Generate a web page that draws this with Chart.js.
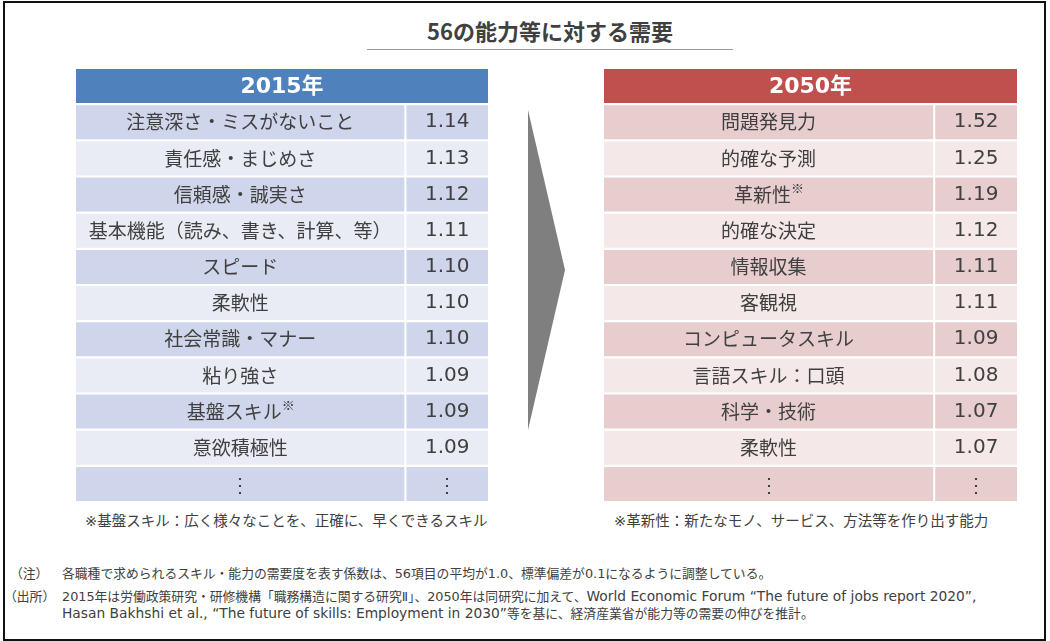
<!DOCTYPE html>
<html>
<head>
<meta charset="utf-8">
<script src="https://cdn.jsdelivr.net/npm/chart.js@4.4.1/dist/chart.umd.min.js"></script>
<style>
  html, body { margin: 0; padding: 0; background: #fff; }
  body { width: 1050px; height: 641px; position: relative; overflow: hidden;
         font-family: "DejaVu Sans", "Noto Sans CJK JP", sans-serif; color: #404040; }
  .frame { position: absolute; left: 3px; top: 1px; width: 1039px; height: 636px; border: 2px solid #111; }
  .title { position: absolute; left: 367px; width: 366px; top: 14px; text-align: center;
           font-family: "Noto Sans CJK JP", sans-serif; font-weight: bold; font-size: 22px; color: #404040; }
  .rule { position: absolute; left: 367px; width: 366px; top: 49px; height: 0; border-top: 1.5px solid #999; }
  .arrow { position: absolute; left: 528px; top: 110px; width: 37px; height: 320px; background: #7f7f7f;
           clip-path: polygon(0 0, 100% 50%, 0 100%); }
  canvas { position: absolute; }
  .note { position: absolute; top: 509px; font-size: 14.5px; white-space: nowrap; }
  .foot { position: absolute; font-size: 12.8px; white-space: nowrap; }
  .lat { font-size: 13.8px; }
</style>
</head>
<body>
<div class="frame"></div>
<div class="title">56の能力等に対する需要</div>
<div class="rule"></div>
<div class="arrow"></div>
<canvas id="left" width="412" height="434" style="left:76px;top:68px;width:412px;height:434px"></canvas>
<canvas id="right" width="413" height="434" style="left:604px;top:68px;width:413px;height:434px"></canvas>
<div class="note" style="left:85px">※基盤スキル：広く様々なことを、正確に、早くできるスキル</div>
<div class="note" style="left:614px">※革新性：新たなモノ、サービス、方法等を作り出す能力</div>
<div class="foot" style="left:10px;top:563px">（注）</div>
<div class="foot" style="left:62px;top:563px">各職種で求められるスキル・能力の需要度を表す係数は、56項目の平均が1.0、標準偏差が0.1になるように調整している。</div>
<div class="foot" style="left:4px;top:586px">（出所）</div>
<div class="foot" style="left:62px;top:586px">2015年は労働政策研究・研修機構「職務構造に関する研究Ⅱ」、2050年は同研究に加えて、<span class="lat">World Economic Forum “The future of jobs report 2020”,</span></div>
<div class="foot" style="left:62px;top:603px"><span class="lat">Hasan Bakhshi et al., “The future of skills: Employment in 2030”</span>等を基に、経済産業省が能力等の需要の伸びを推計。</div>
<script>
// table contents
const skills2015 = ['注意深さ・ミスがないこと', '責任感・まじめさ', '信頼感・誠実さ', '基本機能（読み、書き、計算、等）',
  'スピード', '柔軟性', '社会常識・マナー', '粘り強さ', '基盤スキル※', '意欲積極性'];
const values2015 = [1.14, 1.13, 1.12, 1.11, 1.10, 1.10, 1.10, 1.09, 1.09, 1.09];

const skills2050 = ['問題発見力', '的確な予測', '革新性※', '的確な決定', '情報収集', '客観視',
  'コンピュータスキル', '言語スキル：口頭', '科学・技術', '柔軟性'];
const values2050 = [1.52, 1.25, 1.19, 1.12, 1.11, 1.11, 1.09, 1.08, 1.07, 1.07];

// column split on the 0-100 x scale
const nameCol = [0, 79.7];
const valueCol = [80.2, 100];

const tableText = {
  id: 'tableText',
  afterDatasetsDraw(chart, args, opts) {
    const ctx = chart.ctx;
    const names = chart.getDatasetMeta(0).data;
    const vals = chart.getDatasetMeta(1).data;
    const labels = chart.data.labels;
    ctx.save();
    ctx.textBaseline = 'middle';
    ctx.textAlign = 'center';
    labels.forEach((lab, i) => {
      const el = names[i];
      const cx = (el.x + el.base) / 2;
      const cy = el.y;
      if (i === 0) {
        ctx.fillStyle = '#fff';
        ctx.font = 'bold 22px "DejaVu Sans", "Noto Sans CJK JP"';
        ctx.fillText(lab, cx, cy + 1);
        return;
      }
      ctx.fillStyle = '#404040';
      if (lab === '⋮') {
        ctx.font = '20px "Noto Sans CJK JP"';
        ctx.fillText('⋮', cx, cy);
        const v = vals[i];
        ctx.fillText('⋮', (v.x + v.base) / 2, cy);
        return;
      }
      ctx.font = '19px "Noto Sans CJK JP"';
      const mark = lab.endsWith('※');
      const text = mark ? lab.slice(0, -1) : lab;
      if (mark) {
        const w = ctx.measureText(text).width;
        ctx.fillText(text, cx - 6, cy);
        ctx.font = '13px "Noto Sans CJK JP"';
        ctx.textAlign = 'left';
        ctx.fillText('※', cx - 6 + w / 2, cy - 7);
        ctx.textAlign = 'center';
      } else {
        ctx.fillText(text, cx, cy);
      }
      const v = vals[i];
      ctx.font = '20px "DejaVu Sans"';
      ctx.fillText(opts.values[i - 1].toFixed(2), (v.x + v.base) / 2, cy);
    });
    ctx.restore();
  }
};

function makeTable(id, year, skills, values, head, dark, light) {
  const labels = [year, ...skills, '⋮'];
  const rowColor = labels.map((_, i) => i === 0 ? head : (i % 2 === 1 ? dark : light));
  new Chart(document.getElementById(id), {
    type: 'bar',
    data: {
      labels: labels,
      datasets: [
        { data: labels.map((_, i) => i === 0 ? [0, 100] : nameCol), backgroundColor: rowColor, grouped: false },
        { data: labels.map((_, i) => i === 0 ? null : valueCol), backgroundColor: rowColor, grouped: false }
      ]
    },
    options: {
      indexAxis: 'y',
      responsive: false,
      animation: false,
      events: [],
      layout: { padding: 0 },
      datasets: { bar: { categoryPercentage: 1, barPercentage: 0.94, borderWidth: 0, borderSkipped: false } },
      scales: {
        x: { type: 'linear', min: 0, max: 100, display: false },
        y: { type: 'category', display: false }
      },
      plugins: {
        legend: { display: false },
        tooltip: { enabled: false },
        tableText: { values: values }
      }
    },
    plugins: [tableText]
  });
}

makeTable('left', '2015年', skills2015, values2015, '#4f81bd', '#cfd5ea', '#e9ebf5');
makeTable('right', '2050年', skills2050, values2050, '#c0504d', '#e8cdce', '#f4e8e8');
</script>
</body>
</html>
